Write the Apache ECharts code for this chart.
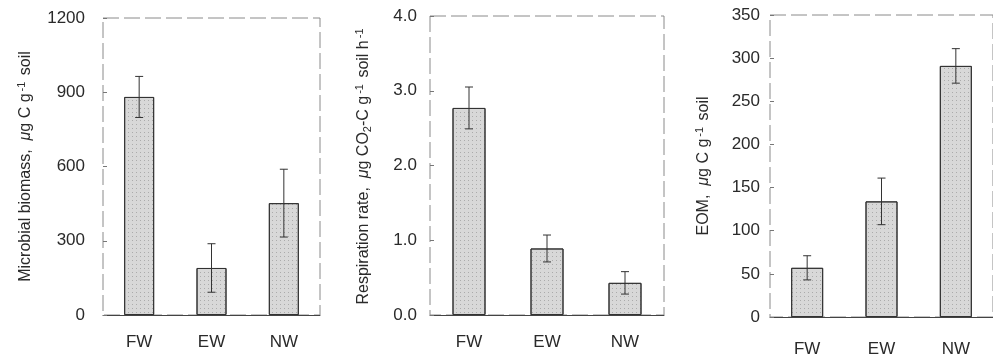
<!DOCTYPE html>
<html>
<head>
<meta charset="utf-8">
<script src="https://cdn.jsdelivr.net/npm/echarts@6/dist/echarts.min.js"></script>
<style>
  html, body { margin: 0; padding: 0; background: #fff; }
  #chart { width: 993px; height: 358px; }
</style>
</head>
<body>
<div id="chart"></div>
<script>
const sites = ["FW", "EW", "NW"];

// microbial biomass, ug C / g soil
const biomass = [881, 190, 452];
const biomassErr = [83, 98, 137];

// respiration rate, ug CO2-C / g soil / h
const respiration = [2.77, 0.89, 0.43];
const respirationErr = [0.28, 0.18, 0.15];

// extractable organic matter, ug C / g soil
const eom = [57, 134, 291];
const eomErr = [14, 27, 20];

const font = "Liberation Sans, Arial, sans-serif";
const ink = "#2a2a2a";

const panels = [
  { grid: { left: 103, top: 18, width: 217, height: 297 }, max: 1200, interval: 300, dec: 0,
    values: biomass, errs: biomassErr, barWidth: 30, nameGap: 67, labelMargin: 18, xMargin: 19,
    name: "Microbial biomass,  {mu|μ}g C g{sup|-1} soil" },
  { grid: { left: 430, top: 16, width: 234, height: 299 }, max: 4, interval: 1, dec: 1,
    values: respiration, errs: respirationErr, barWidth: 33, nameGap: 56, labelMargin: 13, xMargin: 19,
    name: "Respiration rate,  {mu|μ}g CO{sub|2}-C g{sup|-1} soil h{sup|-1}" },
  { grid: { left: 770, top: 15, width: 231, height: 303 }, max: 350, interval: 50, dec: 0,
    values: eom, errs: eomErr, barWidth: 32, nameGap: 56, labelMargin: 10, xMargin: 24,
    name: "EOM,  {mu|μ}g C g{sup|-1} soil" }
];

const rich = {
  mu: { fontSize: 16, fontFamily: font, fontStyle: "italic", color: ink },
  sup: { fontSize: 11, fontFamily: font, color: ink, verticalAlign: "top", padding: [0, 2, 9, 2] },
  sub: { fontSize: 11, fontFamily: font, color: ink, padding: [7, 0, 0, 0] }
};

const option = {
  animation: false,
  backgroundColor: "#fff",
  grid: panels.map(p => Object.assign({
    show: true, borderColor: "#8a8a8a", borderWidth: 1, borderType: [16, 5]
  }, p.grid)),
  xAxis: panels.map((p, i) => ({
    type: "category", gridIndex: i, data: sites,
    axisLine: { lineStyle: { color: "#444", width: 1 } },
    axisTick: { show: false },
    axisLabel: { color: ink, fontSize: 17, fontFamily: font, margin: p.xMargin }
  })),
  yAxis: panels.map((p, i) => ({
    type: "value", gridIndex: i, min: 0, max: p.max, interval: p.interval,
    splitLine: { show: false },
    axisLine: { show: false },
    axisTick: { show: true, inside: true, length: 4, lineStyle: { color: "#777" } },
    axisLabel: { color: ink, fontSize: 17, fontFamily: font, margin: p.labelMargin,
      formatter: v => v.toFixed(p.dec) },
    name: p.name, nameLocation: "middle", nameRotate: 90, nameGap: p.nameGap,
    nameTextStyle: { color: ink, fontSize: 16, fontFamily: font, rich: rich }
  })),
  series: []
};

panels.forEach((p, i) => {
  option.series.push({
    type: "bar", xAxisIndex: i, yAxisIndex: i, data: p.values, barWidth: p.barWidth,
    itemStyle: {
      color: "#d8d8d8", borderColor: "#333", borderWidth: 1,
      decal: { symbol: "rect", symbolSize: 1, color: "rgba(90,90,90,0.35)",
        dashArrayX: [1, 3], dashArrayY: [1, 3], rotation: 0 }
    }
  });
  option.series.push({
    type: "custom", xAxisIndex: i, yAxisIndex: i,
    data: p.values.map((v, k) => [k, v - p.errs[k], v + p.errs[k]]),
    encode: { x: 0, y: [1, 2] },
    z: 5,
    renderItem: (params, api) => {
      const lo = api.coord([api.value(0), api.value(1)]);
      const hi = api.coord([api.value(0), api.value(2)]);
      const cap = 4;
      const style = { stroke: "#333", lineWidth: 1 };
      return {
        type: "group",
        children: [
          { type: "line", shape: { x1: hi[0], y1: hi[1], x2: lo[0], y2: lo[1] }, style },
          { type: "line", shape: { x1: hi[0] - cap, y1: hi[1], x2: hi[0] + cap, y2: hi[1] }, style },
          { type: "line", shape: { x1: lo[0] - cap, y1: lo[1], x2: lo[0] + cap, y2: lo[1] }, style }
        ]
      };
    }
  });
});

const chart = echarts.init(document.getElementById("chart"), null, { renderer: "canvas" });
chart.setOption(option);
</script>
</body>
</html>
